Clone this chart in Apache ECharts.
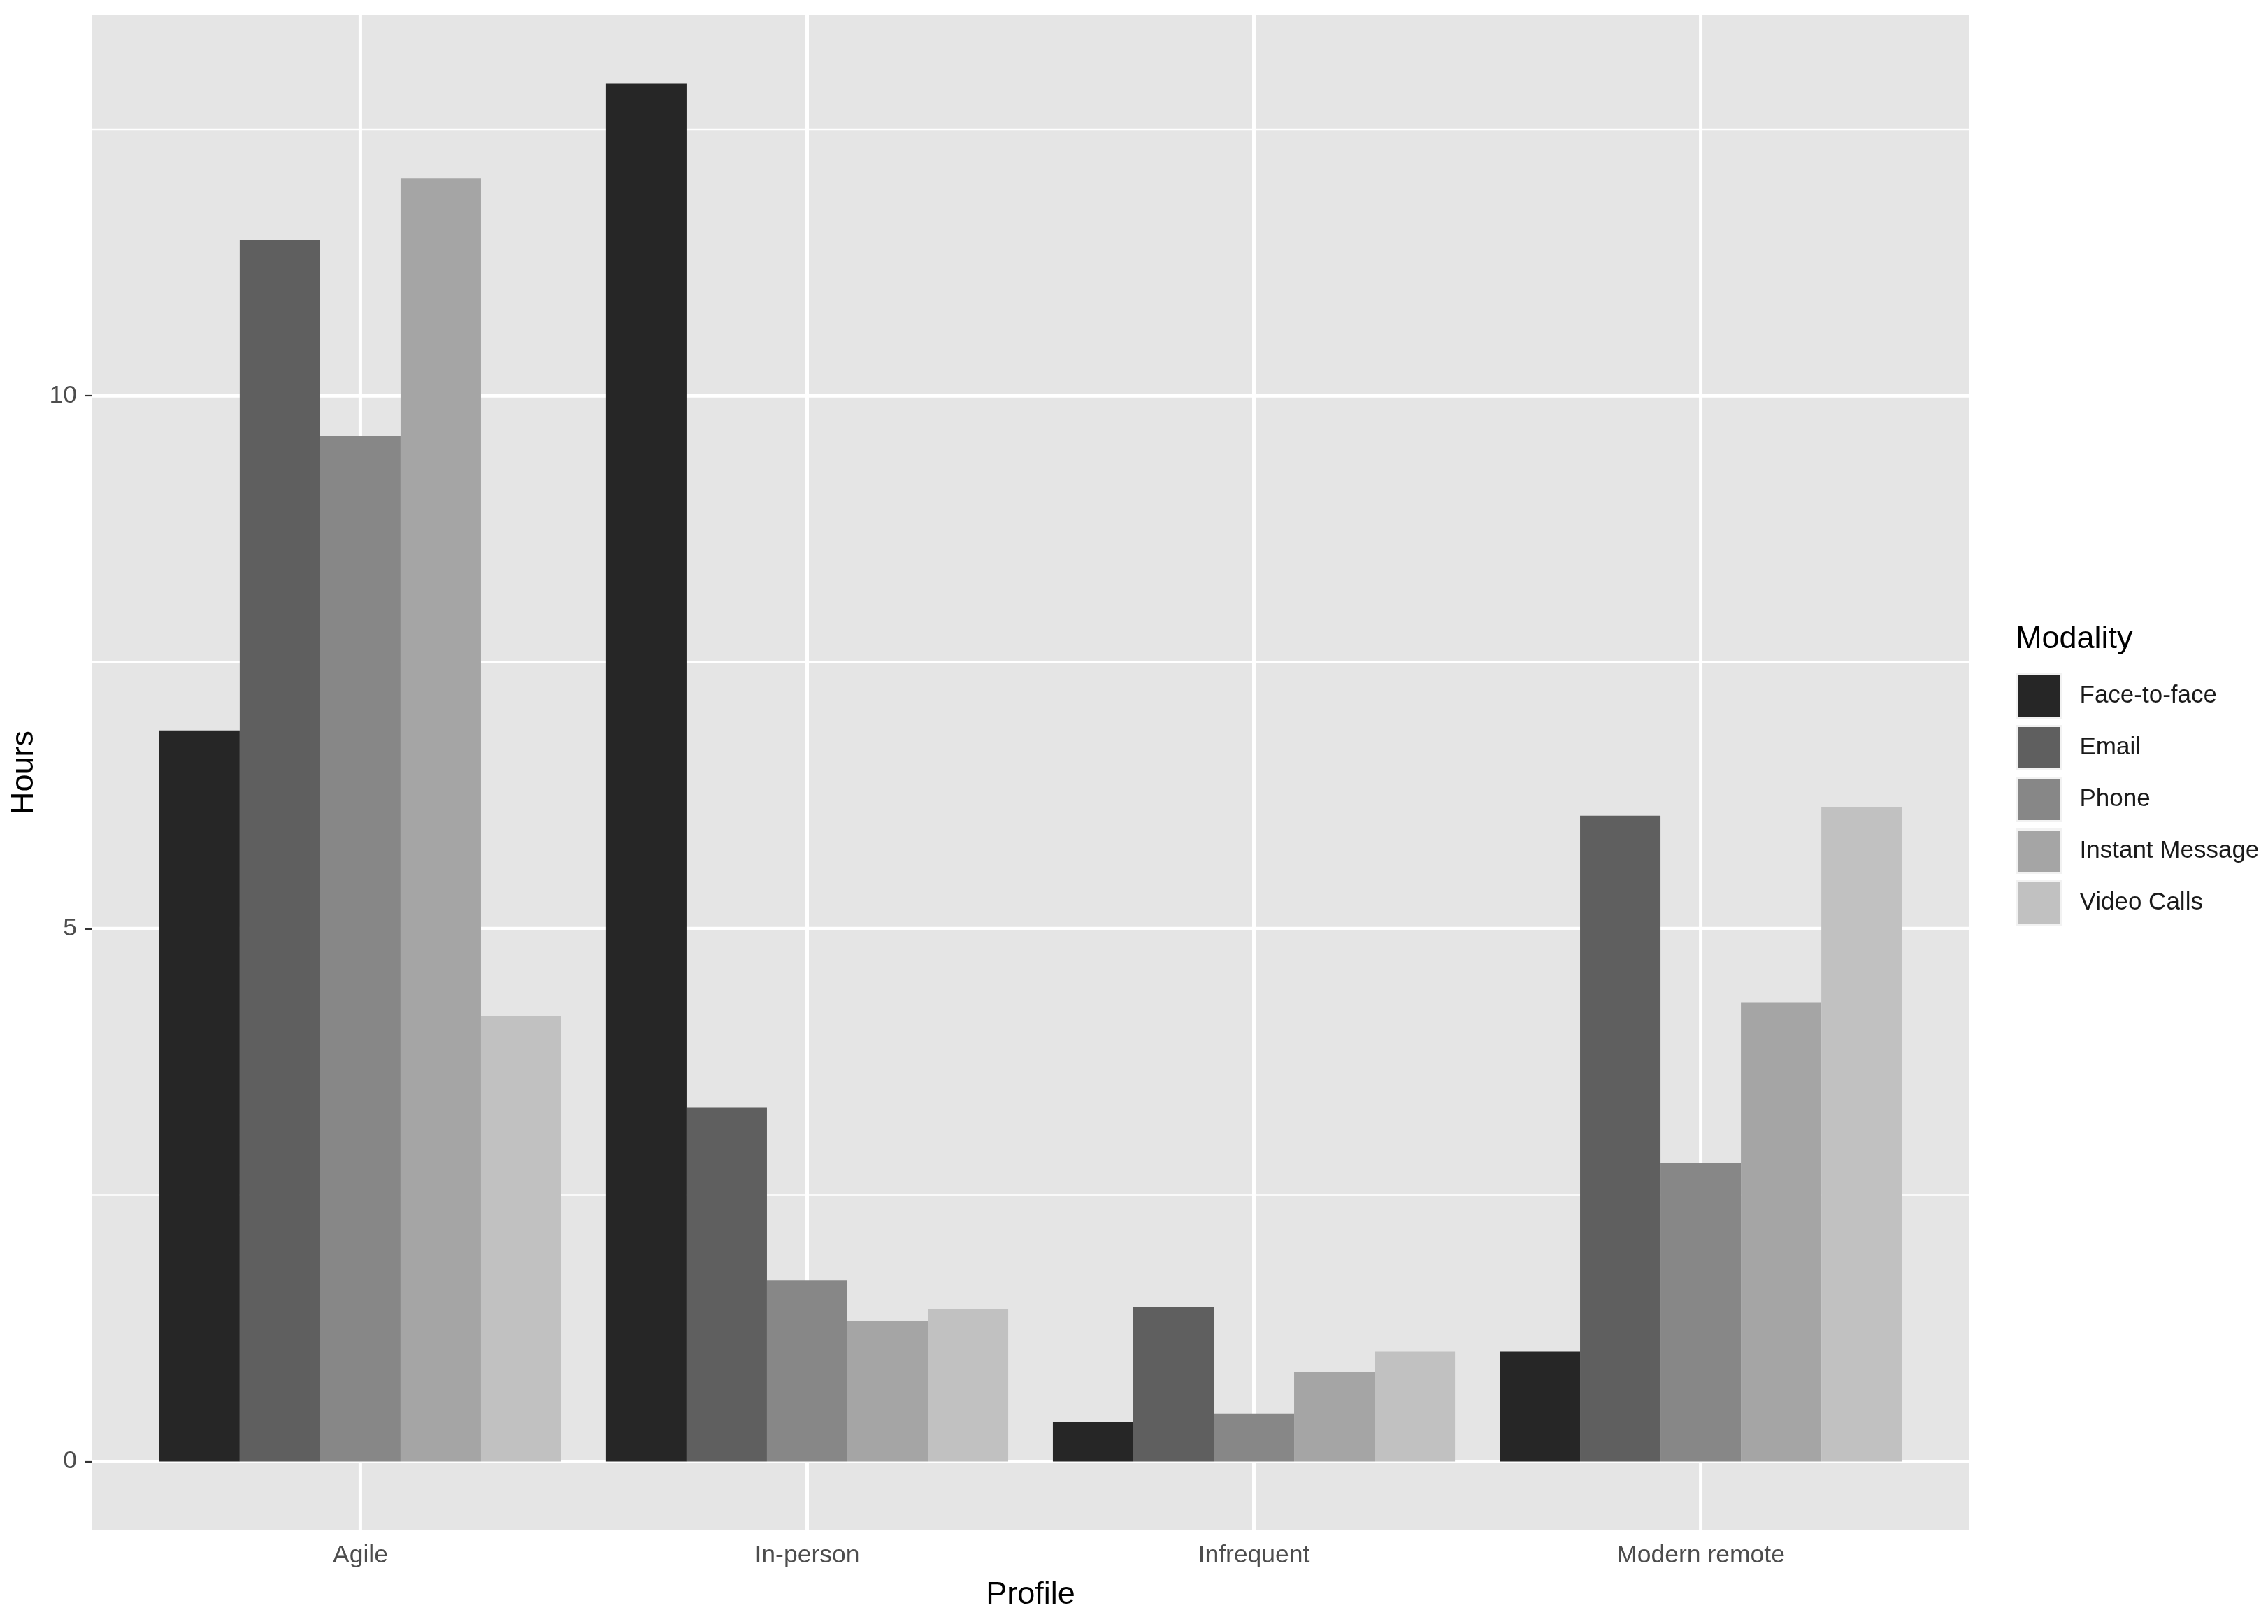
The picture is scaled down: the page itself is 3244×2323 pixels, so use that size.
<!DOCTYPE html>
<html>
<head>
<meta charset="utf-8">
<title>Hours by profile and modality</title>
<script src="https://cdn.jsdelivr.net/npm/echarts@6/dist/echarts.min.js"></script>
<style>
  html, body { margin: 0; padding: 0; background: #ffffff; }
  #chart { width: 3244px; height: 2323px; }
</style>
</head>
<body>
<div id="chart"></div>
<script>
// data
const categories = ['Agile', 'In-person', 'Infrequent', 'Modern remote'];
const modalities = ['Face-to-face', 'Email', 'Phone', 'Instant Message', 'Video Calls'];
const faceToFace = [6.86, 12.93, 0.37, 1.03];
const email = [11.46, 3.32, 1.45, 6.06];
const phone = [9.62, 1.70, 0.45, 2.80];
const instantMessage = [12.04, 1.32, 0.84, 4.31];
const videoCalls = [4.18, 1.43, 1.03, 6.14];
const yTicks = [0, 5, 10];
const yMinorGrid = [2.5, 7.5, 12.5];

const seriesValues = [faceToFace, email, phone, instantMessage, videoCalls];
const fills = ['#262626', '#5f5f5f', '#878787', '#a5a5a5', '#c1c1c1'];
const FONT = '"Liberation Sans", Arial, sans-serif';

// ggplot-like expansion: 5% on continuous, 0.6 on discrete
const maxVal = Math.max(...seriesValues.flat());
const yMin = -maxVal * 0.05;
const yMax = maxVal * 1.05;
const xMin = 0.4;
const xMax = categories.length + 0.6;

const chart = echarts.init(document.getElementById('chart'), null, { renderer: 'canvas' });

// panel grid lines, drawn under the bars
function gridLine(data, width) {
  return {
    type: 'line',
    data,
    symbol: 'none',
    silent: true,
    z: 1,
    animation: false,
    lineStyle: { color: '#ffffff', width },
    emphasis: { disabled: true },
  };
}
const gridSeries = [
  ...yMinorGrid.map((v) => gridLine([[xMin, v], [xMax, v]], 2.5)),
  ...yTicks.map((v) => gridLine([[xMin, v], [xMax, v]], 5)),
  ...categories.map((c, i) => gridLine([[i + 1, yMin], [i + 1, yMax]], 5)),
];

const barSeries = modalities.map((name, k) => ({
  name,
  type: 'bar',
  z: 2,
  barGap: '0%',
  barCategoryGap: '10%',
  itemStyle: { color: fills[k] },
  data: seriesValues[k].map((v, i) => [i + 1, v]),
}));

const option = {
  animation: false,
  backgroundColor: '#ffffff',
  textStyle: { fontFamily: FONT },
  title: {
    text: 'Modality',
    left: 2878,
    top: 887,
    textStyle: { fontSize: 45, fontWeight: 'normal', color: '#000000', fontFamily: FONT },
  },
  legend: {
    data: modalities,
    orient: 'vertical',
    left: 2879,
    top: 958,
    icon: 'rect',
    itemWidth: 62,
    itemHeight: 62,
    itemGap: 9,
    itemStyle: { borderColor: '#f2f2f2', borderWidth: 3 },
    textStyle: { fontSize: 35, color: '#1a1a1a', fontFamily: FONT, padding: [0, 0, 0, 22] },
  },
  grid: {
    left: 132,
    right: 428,
    top: 21,
    bottom: 134,
    show: true,
    backgroundColor: '#e5e5e5',
    borderWidth: 0,
  },
  xAxis: {
    type: 'value',
    min: xMin,
    max: xMax,
    name: 'Profile',
    nameLocation: 'middle',
    nameGap: 70,
    nameTextStyle: { fontSize: 45, color: '#000000', fontFamily: FONT },
    axisLine: { show: false },
    splitLine: { show: false },
    axisTick: {
      show: true,
      length: 11,
      lineStyle: { color: '#333333', width: 2.2 },
      customValues: categories.map((c, i) => i + 1),
    },
    axisLabel: {
      fontSize: 35.5,
      color: '#4d4d4d',
      margin: 18,
      customValues: categories.map((c, i) => i + 1),
      formatter: (v) => categories[Math.round(v) - 1],
    },
  },
  yAxis: {
    type: 'value',
    min: yMin,
    max: yMax,
    name: 'Hours',
    nameLocation: 'middle',
    nameGap: 75,
    nameRotate: 90,
    nameTextStyle: { fontSize: 45, color: '#000000', fontFamily: FONT },
    axisLine: { show: false },
    splitLine: { show: false },
    axisTick: {
      show: true,
      length: 11,
      lineStyle: { color: '#333333', width: 2.2 },
      customValues: yTicks,
    },
    axisLabel: {
      fontSize: 35.5,
      color: '#4d4d4d',
      margin: 22,
      customValues: yTicks,
    },
  },
  series: [...gridSeries, ...barSeries],
};

chart.setOption(option);
</script>
</body>
</html>
